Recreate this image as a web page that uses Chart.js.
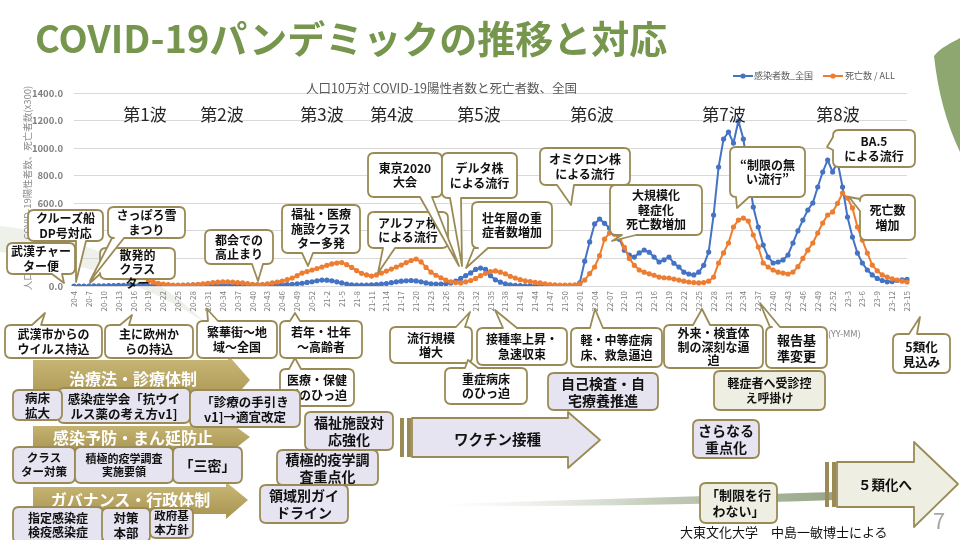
<!DOCTYPE html>
<html lang="ja"><head><meta charset="utf-8">
<script src="https://cdn.jsdelivr.net/npm/chart.js@4.4.1/dist/chart.umd.min.js"></script>
<style>
html,body{margin:0;padding:0;background:#fff;}
#slide{position:relative;width:960px;height:540px;overflow:hidden;background:#fff;font-family:"Noto Sans CJK JP","Noto Sans",sans-serif;}
#deco,#c{position:absolute;left:0;top:0;}
.abs{position:absolute;white-space:nowrap;}
.lay{position:absolute;left:0;top:0;width:960px;height:540px;pointer-events:none;overflow:visible;}
.bx{position:absolute;display:flex;align-items:center;justify-content:center;text-align:center;white-space:pre;font-weight:bold;color:#111;line-height:1.2;}
.wave{position:absolute;top:101px;font-size:17px;color:#262626;transform:translateX(-50%);white-space:nowrap;}
</style></head><body>
<div id="slide">
<svg id="deco" width="960" height="540">
  <defs>
    <linearGradient id="sw" x1="0" x2="1" y1="0" y2="0">
      <stop offset="0" stop-color="#e6e9e2" stop-opacity="0"/>
      <stop offset="0.55" stop-color="#c3cbb9"/>
      <stop offset="1" stop-color="#98a688"/>
    </linearGradient>
  </defs>
  <path d="M0,226 Q115,238 205,322 Q110,262 0,252 Z" fill="#eef1ea"/>
  <path d="M440,504 Q640,498 835,492 L835,500 Q640,507 440,506 Z" fill="url(#sw)"/>
  <path d="M934,56 C938,92 946,122 960,152 L960,38 C951,43 940,48 934,56 Z" fill="#8ea66f"/>
</svg>
<canvas id="c" width="960" height="540" style="width:960px;height:540px"></canvas>
<div class="abs" style="left:35px;top:15px;height:44px;line-height:44px;font-size:38px;font-weight:bold;color:#76964e;">COVID-19パンデミックの推移と対応</div>
<div class="abs" style="left:306px;top:78px;font-size:12.5px;color:#595959;">人口10万対 COVID-19陽性者数と死亡者数、全国</div>
<div class="abs" style="left:733px;top:69px;font-size:9px;color:#595959;display:flex;align-items:center;">
  <svg width="20" height="8"><line x1="0" y1="4" x2="20" y2="4" stroke="#4472c4" stroke-width="2"/><circle cx="10" cy="4" r="2.6" fill="#4472c4"/></svg>
  <span style="margin:0 10px 0 1px">感染者数_全国</span>
  <svg width="20" height="8"><line x1="0" y1="4" x2="20" y2="4" stroke="#ed7d31" stroke-width="2"/><circle cx="10" cy="4" r="2.6" fill="#ed7d31"/></svg>
  <span style="margin-left:2px">死亡数 / ALL</span>
</div>
<div class="abs" style="left:-78px;top:181px;width:210px;text-align:center;font-size:9.5px;color:#8c8c8c;transform:rotate(-90deg);">人口10万対 COVID-19陽性者数、死亡者数(x300)</div>
<div class="abs" style="left:828px;top:327px;font-size:9px;color:#7f7f7f;">(YY-MM)</div>
<div id="waves"></div>
<div id="ann"></div>
<div class="abs" style="left:680px;top:522px;font-size:13px;color:#111;">大東文化大学　中島一敏博士による</div>
<div class="abs" style="left:933px;top:503px;font-size:22px;color:#a6a6a6;">7</div>
</div>
<script>
// ---- data ----
const tickLabels = [
 '20-4','20-7','20-10','20-13','20-16','20-19','20-22','20-25','20-28','20-31','20-34','20-37','20-40','20-43','20-46','20-49','20-52',
 '21-2','21-5','21-8','21-11','21-14','21-17','21-20','21-23','21-26','21-29','21-32','21-35','21-38','21-41','21-44','21-47','21-50',
 '22-01','22-04','22-07','22-10','22-13','22-16','22-19','22-22','22-25','22-28','22-31','22-34','22-37','22-40','22-43','22-46','22-49','22-52',
 '23-3','23-6','23-9','23-12','23-15'
];
const cases = [
 0,0,0,0,1,1,1,2,3,4,
 5,4,3,2,1,1,1,1,1,2,
 2,3,4,6,8,9,10,10,9,8,
 7,6,5,5,6,7,8,9,8,8,
 8,9,10,11,12,16,20,26,31,38,
 43,42,38,30,22,14,8,6,6,7,
 9,11,14,18,24,30,35,38,40,37,
 30,22,16,14,14,16,22,35,55,75,
 95,120,130,120,75,45,28,15,8,4,
 2,1,1,1,1,1,1,1,1,1,
 1,2,22,180,320,450,486,455,420,384,
 340,260,225,210,240,261,245,210,174,190,
 210,165,138,100,87,80,100,150,246,515,
 863,1066,1117,1037,1197,1066,819,573,428,297,
 210,167,174,189,225,312,400,478,551,602,
 718,827,914,827,900,718,500,355,239,167,
 116,80,55,40,30,32,40,45,48
];
const deaths = [
 null,null,null,null,null,null,null,null,null,null,
 null,null,null,null,null,36,28,20,14,10,
 7,6,6,7,9,12,16,20,25,28,
 30,30,28,25,22,18,12,8,10,16,
 22,29,36,46,58,75,94,105,116,127,
 138,150,160,166,170,155,135,112,92,80,
 72,80,94,108,123,138,152,170,185,196,
 175,135,100,78,60,42,30,25,22,30,
 40,55,75,92,104,109,100,88,70,58,
 46,38,32,26,22,16,11,8,7,6,
 6,8,15,43,90,138,220,340,384,375,
 355,280,200,150,116,100,88,78,65,60,
 58,50,43,35,29,25,22,25,35,65,
 167,240,312,428,478,493,471,370,283,167,
 138,116,100,94,87,101,140,200,260,312,
 384,457,515,537,600,674,638,566,428,333,
 239,152,110,80,65,52,43,35,29
];
const yMax = 1400, yStep = 200;

const categories = [];
tickLabels.forEach((t, i) => { categories.push(t); if (i < tickLabels.length - 1) { categories.push(''); categories.push(''); } });

new Chart(document.getElementById('c'), {
  type: 'line',
  data: {
    labels: categories,
    datasets: [
      { label: '死亡数 / ALL', data: deaths, borderColor: '#ed7d31', backgroundColor: '#ed7d31', borderWidth: 2, pointRadius: 2.6, pointBorderWidth: 0, tension: 0, order: 0, spanGaps: false },
      { label: '感染者数_全国', data: cases, borderColor: '#4472c4', backgroundColor: '#4472c4', borderWidth: 2, pointRadius: 2.6, pointBorderWidth: 0, tension: 0, order: 1 }
    ]
  },
  options: {
    responsive: false, animation: false,
    layout: { padding: { left: 0, right: 53, top: 93, bottom: 204 }, autoPadding: false },
    plugins: { legend: { display: false }, title: { display: false }, tooltip: { enabled: false } },
    scales: {
      x: {
        grid: { display: false, drawTicks: false },
        border: { color: '#d9d9d9' },
        ticks: { autoSkip: false, minRotation: 90, maxRotation: 90, padding: 5, color: '#7f7f7f', font: { size: 8, family: 'Noto Sans CJK JP' } },
        afterFit(s) { s.height = 50; }
      },
      y: {
        min: 0, max: yMax,
        grid: { color: '#d9d9d9', drawTicks: false },
        border: { display: false },
        ticks: { stepSize: yStep, padding: 11, color: '#7f7f7f', font: { size: 9.5, weight: 'bold', family: 'Noto Sans CJK JP' }, callback: v => Number(v).toFixed(1) },
        afterFit(s) { s.width = 74; }
      }
    }
  }
});

// ---- wave labels ----
const waves = [['第1波',145],['第2波',222],['第3波',322],['第4波',392],['第5波',479],['第6波',592],['第7波',724],['第8波',838]];
const wv = document.getElementById('waves');
waves.forEach(([t, x]) => { const d = document.createElement('div'); d.className = 'wave'; d.style.left = x + 'px'; d.textContent = t; wv.appendChild(d); });

// ---- annotations ----
const OL = '#9a8b56';
const FILL = { w: '#ffffff', l: '#e6e4f1', g: '#eeefe2' };
const ann = document.getElementById('ann');
const NS = 'http://www.w3.org/2000/svg';
function layer(html) { const s = document.createElementNS(NS, 'svg'); s.setAttribute('class', 'lay'); s.setAttribute('width', 960); s.setAttribute('height', 540); s.innerHTML = html; ann.appendChild(s); }
function text(t, x, y, w, h, fs, extra) {
  const d = document.createElement('div'); d.className = 'bx';
  Object.assign(d.style, { left: x + 'px', top: y + 'px', width: w + 'px', height: h + 'px', fontSize: fs + 'px' }, extra || {});
  d.textContent = t; ann.appendChild(d);
}
function pathFor(x, y, w, h, r, t) {
  let p = `M${x + r},${y}`;
  if (t && t.e === 't') p += ` L${t.a},${y} L${t.tx},${t.ty} L${t.b},${y}`;
  p += ` L${x + w - r},${y} Q${x + w},${y} ${x + w},${y + r}`;
  if (t && t.e === 'r') p += ` L${x + w},${t.a} L${t.tx},${t.ty} L${x + w},${t.b}`;
  p += ` L${x + w},${y + h - r} Q${x + w},${y + h} ${x + w - r},${y + h}`;
  if (t && t.e === 'b') p += ` L${t.b},${y + h} L${t.tx},${t.ty} L${t.a},${y + h}`;
  p += ` L${x + r},${y + h} Q${x},${y + h} ${x},${y + h - r}`;
  if (t && t.e === 'l') p += ` L${x},${t.b} L${t.tx},${t.ty} L${x},${t.a}`;
  p += ` L${x},${y + r} Q${x},${y} ${x + r},${y} Z`;
  return p;
}
function box(t, x, y, w, h, f, fs, tail, extra) {
  layer(`<path d="${pathFor(x, y, w, h, 6, tail)}" fill="${FILL[f]}" stroke="${OL}" stroke-width="1.8" stroke-linejoin="round"/>`);
  text(t, x, y, w, h, fs, extra);
}
function arrowPts(x0, x1, sy0, sy1, hy0, hy1, tip, ty) {
  return `${x0},${sy0} ${x1},${sy0} ${x1},${hy0} ${tip},${ty} ${x1},${hy1} ${x1},${sy1} ${x0},${sy1}`;
}
// gold band arrows
layer(`<defs><linearGradient id="gd" x1="0" x2="0" y1="0" y2="1"><stop offset="0" stop-color="#c9b878"/><stop offset="1" stop-color="#a8934f"/></linearGradient></defs>
 <polygon points="${arrowPts(33,228,360,400,355,405,250,380)}" fill="url(#gd)"/>
 <polygon points="${arrowPts(33,228,426,449,421,454,250,437)}" fill="url(#gd)"/>
 <polygon points="${arrowPts(33,226,487,514,482,519,248,500)}" fill="url(#gd)"/>`);
const gw = { color: '#ffffff', fontWeight: 'bold' };
text('治療法・診療体制', 33, 364, 200, 30, 16, gw);
text('感染予防・まん延防止', 33, 424, 200, 27, 16, gw);
text('ガバナンス・行政体制', 33, 485, 195, 30, 16, gw);
// vaccine & 5類 arrows
layer(`<rect x="400" y="418" width="4" height="39" fill="${OL}"/><rect x="407" y="418" width="4" height="39" fill="${OL}"/>
 <polygon points="${arrowPts(412,568,418,457,412,468,600,440)}" fill="${FILL.l}" stroke="${OL}" stroke-width="1.8" stroke-linejoin="round"/>
 <rect x="825" y="462" width="4" height="45" fill="${OL}"/><rect x="832" y="462" width="4" height="45" fill="${OL}"/>
 <polygon points="${arrowPts(837,914,462,507,442,527,958,484)}" fill="${FILL.g}" stroke="${OL}" stroke-width="1.8" stroke-linejoin="round"/>`);
text('ワクチン接種', 440, 422, 115, 34, 14.5);
text('５類化へ', 845, 466, 80, 36, 13.5);

// callouts above axis
box('武漢チャー\nター便', 7, 243, 68, 31, 'w', 12, { e: 'b', a: 52, b: 62, tx: 64, ty: 283 });
box('クルーズ船\nDP号対応', 28, 210, 75, 31, 'w', 12, { e: 'b', a: 76, b: 86, tx: 76, ty: 282 });
box('散発的\nクラス\nター', 100, 248, 75, 31, 'w', 12, { e: 'l', a: 264, b: 274, tx: 90, ty: 283 }, { alignItems: 'flex-start', lineHeight: '1.18' });
box('さっぽろ雪\nまつり', 108, 207, 77, 31, 'w', 12, { e: 'b', a: 112, b: 124, tx: 90, ty: 281 });
box('都会での\n高止まり', 205, 230, 68, 34, 'w', 12, { e: 'b', a: 252, b: 263, tx: 258, ty: 281 });
box('福祉・医療\n施設クラス\nター多発', 282, 205, 78, 48, 'w', 12, { e: 'b', a: 302, b: 313, tx: 308, ty: 266 });
box('アルファ株\nによる流行', 368, 212, 80, 36, 'w', 12, { e: 'b', a: 383, b: 395, tx: 378, ty: 273 });
box('東京2020\n大会', 368, 153, 74, 44, 'w', 12, { e: 'b', a: 420, b: 432, tx: 459, ty: 266 });
box('デルタ株\nによる流行', 442, 153, 75, 45, 'w', 12, { e: 'b', a: 450, b: 461, tx: 462, ty: 266 });
box('壮年層の重\n症者数増加', 472, 202, 80, 46, 'w', 12, { e: 'b', a: 474, b: 488, tx: 466, ty: 268 });
box('オミクロン株\nによる流行', 540, 148, 90, 37, 'w', 12, { e: 'b', a: 557, b: 574, tx: 571, ty: 205 });
box('大規模化\n軽症化\n死亡数増加', 610, 185, 92, 50, 'w', 12, { e: 'b', a: 622, b: 636, tx: 612, ty: 241 });
box('“制限の無\nい流行”', 730, 147, 75, 50, 'w', 12, { e: 'b', a: 736, b: 749, tx: 737, ty: 208 });
box('BA.5\nによる流行', 833, 130, 82, 37, 'w', 12, { e: 'l', a: 137, b: 150, tx: 827, ty: 147 });
box('死亡数\n増加', 860, 195, 55, 45, 'w', 12, { e: 'l', a: 199, b: 211, tx: 849, ty: 197 });

// callouts below axis
box('武漢市からの\nウイルス持込', 5, 325, 97, 33, 'w', 12, { e: 't', a: 32, b: 41, tx: 45, ty: 313 });
box('主に欧州か\nらの持込', 105, 325, 88, 33, 'w', 12, { e: 't', a: 120, b: 129, tx: 132, ty: 315 });
box('繁華街〜地\n域〜全国', 197, 321, 80, 37, 'w', 12, { e: 't', a: 208, b: 218, tx: 207, ty: 309 });
box('若年・壮年\n〜高齢者', 280, 321, 82, 37, 'w', 12, { e: 't', a: 290, b: 300, tx: 295, ty: 313 });
box('医療・保健\n所のひっ迫', 280, 369, 74, 37, 'w', 12, { e: 't', a: 289, b: 301, tx: 295, ty: 358 });
box('流行規模\n増大', 390, 327, 82, 36, 'w', 12, { e: 't', a: 456, b: 465, tx: 470, ty: 312 });
box('重症病床\nのひっ迫', 445, 368, 82, 36, 'w', 12, { e: 't', a: 465, b: 478, tx: 468, ty: 360 });
box('接種率上昇・\n急速収束', 477, 328, 90, 37, 'w', 12, { e: 't', a: 503, b: 517, tx: 495, ty: 310 });
box('軽・中等症病\n床、救急逼迫', 571, 328, 91, 39, 'w', 12, { e: 't', a: 590, b: 603, tx: 595, ty: 309 });
box('外来・検査体\n制の深刻な逼\n迫', 664, 325, 99, 43, 'w', 12, { e: 't', a: 693, b: 710, tx: 702, ty: 309 }, { lineHeight: '1.15' });
box('報告基\n準変更', 766, 327, 61, 41, 'w', 13, { e: 't', a: 770, b: 780, tx: 760, ty: 303 });
box('5類化\n見込み', 893, 334, 57, 39, 'w', 12.5, { e: 't', a: 909, b: 917, tx: 920, ty: 317 });
box('自己検査・自\n宅療養推進', 548, 373, 110, 37, 'l', 14);
box('軽症者へ受診控\nえ呼掛け', 714, 371, 111, 39, 'g', 12);
box('さらなる\n重点化', 693, 420, 66, 38, 'l', 14);
box('「制限を行\nわない」', 700, 483, 77, 40, 'g', 13);

// left measure boxes
box('感染症学会「抗ウイ\nルス薬の考え方v1]', 58, 388, 132, 35, 'l', 12.5);
box('病床\n拡大', 13, 390, 49, 30, 'l', 12.5);
box('「診療の手引き\nv1]→適宜改定', 190, 390, 110, 37, 'l', 12.5);
box('福祉施設対\n応強化', 305, 412, 88, 38, 'l', 14);
box('クラス\nター対策', 13, 447, 62, 36, 'l', 11.5);
box('積極的疫学調査\n実施要領', 75, 447, 98, 36, 'l', 11);
box('「三密」', 173, 447, 69, 36, 'l', 14);
box('積極的疫学調\n査重点化', 277, 450, 101, 35, 'l', 14);
box('領域別ガイ\nドライン', 260, 485, 88, 38, 'l', 14);
box('指定感染症\n検疫感染症', 13, 507, 90, 36, 'l', 12);
box('対策\n本部', 102, 508, 48, 34, 'l', 12.5);
box('政府基\n本方針', 150, 508, 43, 30, 'l', 11.5);
</script>
</body></html>
